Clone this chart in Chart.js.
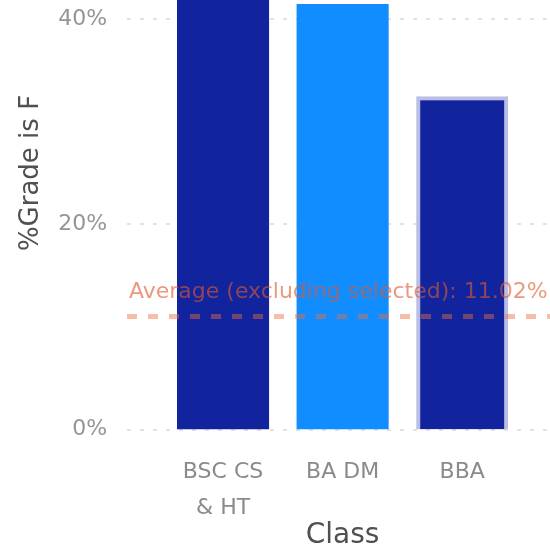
<!DOCTYPE html>
<html>
<head>
<meta charset="utf-8">
<script src="https://cdn.jsdelivr.net/npm/chart.js@4/dist/chart.umd.min.js"></script>
<style>
  html, body { margin: 0; padding: 0; background: #fff; }
  canvas { display: block; }
</style>
</head>
<body>
<canvas id="gradeChart" width="550" height="548"></canvas>
<script>
// data
let classes = [["BSC CS", "& HT"], "BA DM", "BBA"];
let pctGradeF = [47, 41.5, 32.5];
let barColors = ["#12239E", "#118DFF", "#12239E"];
let avgExcluding = 11.02;
let yTicks = [0, 20, 40];

const FONT = "'DejaVu Sans', sans-serif";

// dotted grid lines that run past the plot area, behind the bars
const dottedGrid = {
  id: "dottedGrid",
  beforeDatasetsDraw(chart) {
    let ctx = chart.ctx, y = chart.scales.y;
    ctx.save();
    ctx.strokeStyle = "#e2e2e2";
    ctx.lineWidth = 2;
    ctx.setLineDash([4, 9]);
    y.ticks.forEach(t => {
      let py = Math.round(y.getPixelForValue(t.value));
      ctx.beginPath();
      ctx.moveTo(127, py);
      ctx.lineTo(chart.width, py);
      ctx.stroke();
    });
    ctx.restore();
  }
};

// average reference line + label
const avgLine = {
  id: "avgLine",
  afterDatasetsDraw(chart) {
    let ctx = chart.ctx, y = chart.scales.y;
    let py = y.getPixelForValue(avgExcluding);
    ctx.save();
    ctx.strokeStyle = "rgba(235,110,60,0.45)";
    ctx.lineWidth = 5;
    ctx.setLineDash([10, 11]);
    ctx.beginPath();
    ctx.moveTo(127, py);
    ctx.lineTo(chart.width, py);
    ctx.stroke();
    ctx.setLineDash([]);
    ctx.fillStyle = "rgba(222,88,45,0.62)";
    ctx.font = "22px " + FONT;
    ctx.textAlign = "left";
    ctx.textBaseline = "alphabetic";
    ctx.fillText("Average (excluding selected): " + avgExcluding.toFixed(2) + "%", 129, py - 19);
    ctx.restore();
  }
};

// y axis title sits higher than the plot centre, so draw it here
const yTitle = {
  id: "yTitle",
  afterDraw(chart) {
    let ctx = chart.ctx;
    ctx.save();
    ctx.translate(31, 173);
    ctx.rotate(-Math.PI / 2);
    ctx.fillStyle = "#505050";
    ctx.font = "26px " + FONT;
    ctx.textAlign = "center";
    ctx.textBaseline = "middle";
    ctx.fillText("%Grade is F", 0, 0);
    ctx.restore();
  }
};

new Chart(document.getElementById("gradeChart").getContext("2d"), {
  type: "bar",
  data: {
    labels: classes,
    datasets: [{
      label: "%Grade is F",
      data: pctGradeF,
      backgroundColor: barColors,
      borderColor: ["#12239E", "#118DFF", "#BABEE4"],
      borderWidth: [0, 0, 4],
      categoryPercentage: 1,
      barPercentage: 0.77
    }]
  },
  options: {
    responsive: false,
    animation: false,
    devicePixelRatio: 1,
    layout: { autoPadding: false, padding: { top: 0, left: 0, right: 28, bottom: 0 } },
    plugins: { legend: { display: false }, tooltip: { enabled: false } },
    scales: {
      x: {
        grid: { display: false, drawTicks: false },
        border: { display: false },
        ticks: { color: "#8a8a8a", font: { family: FONT, size: 22, lineHeight: 1.64 }, padding: 25, maxRotation: 0 },
        title: { display: true, text: "Class", color: "#505050", font: { family: FONT, size: 28, lineHeight: 0.85 }, padding: 0 },
        afterFit(scale) { scale.height = 118.5; }
      },
      y: {
        min: 0,
        max: 41.9,
        grid: { display: false, drawTicks: false },
        border: { display: false },
        afterBuildTicks(scale) { scale.ticks = yTicks.map(v => ({ value: v })); },
        ticks: { color: "#959595", font: { family: FONT, size: 22 }, padding: 56, callback: v => v + "%" },
        afterFit(scale) {
          scale.width = 163.25;
          // tick padding is only there to push labels left, not to shrink the plot
          scale.paddingTop = 0;
          scale.paddingBottom = 0;
        }
      }
    }
  },
  plugins: [dottedGrid, avgLine, yTitle]
});
</script>
</body>
</html>
